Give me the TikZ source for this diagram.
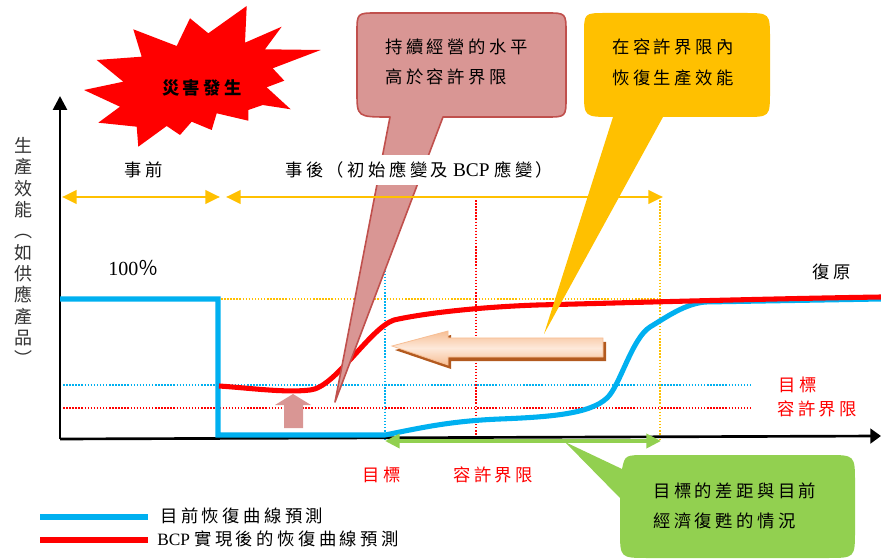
\documentclass[tikz,border=0pt]{standalone}
\usepackage{fontspec}
\setmainfont{Liberation Serif}
\newfontfamily\cjk[LetterSpace=20]{Noto Sans CJK TC}
\newfontfamily\cjkv{Noto Sans CJK TC}
\usetikzlibrary{arrows.meta}
\definecolor{cblue}{HTML}{00B0F0}
\definecolor{cred}{HTML}{FF0000}
\definecolor{cyellow}{HTML}{FFC000}
\definecolor{cpink}{HTML}{D99694}
\definecolor{cpinkedge}{HTML}{C0504D}
\definecolor{cgreen}{HTML}{92D050}
\definecolor{cpeach}{HTML}{F7BE94}
\definecolor{cpeachlight}{HTML}{FDE9DA}
\definecolor{cbrown}{HTML}{B35A1F}
\begin{document}
\begin{tikzpicture}[x=0.75pt,y=-0.75pt,
  lbl/.style={inner sep=0pt, anchor=west, font=\cjk\fontsize{13}{15}\selectfont},
  redlbl/.style={lbl, text=cred},
  dotline/.style={line width=1.1pt, dash pattern=on 1.1pt off 1.2pt},
  curve/.style={line width=3.8pt, line join=miter},
  axisline/.style={line width=2pt, black},
  yarrow/.style={draw=cyellow, line width=2.2pt, {Triangle[length=11pt,width=10pt]}-{Triangle[length=11pt,width=10pt]}},
  garrow/.style={draw=cgreen, line width=3.6pt, {Triangle[length=11pt,width=10.5pt]}-{Triangle[length=11pt,width=10.5pt]}},
]
\useasboundingbox (0,0) rectangle (881,559);

% named coordinates
\coordinate (O) at (60,439);
\coordinate (Ytop) at (60,96);
\coordinate (Xend) at (881,436);

% dotted guide lines
\draw[dotline, cblue] (60,385) -- (753,385);
\draw[dotline, cred] (60,408) -- (753,408);
\draw[dotline, cyellow] (218,299) -- (660,299);
\draw[dotline, cblue] (385,197) -- (385,440);
\draw[dotline, cred] (476,197) -- (476,440);
\draw[dotline, cyellow] (660,197) -- (660,440);

% axes
\draw[axisline, -{Triangle[length=10.5pt,width=10.5pt]}] (O) -- (Ytop);
\draw[axisline, -{Triangle[length=8pt,width=11pt]}] (O) -- (Xend);

% curves
\draw[curve, cblue] (60,299) -- (218,299) -- (218,435) -- (385,435)
  .. controls (420,428) and (450,421) .. (500,419)
  .. controls (550,417) and (590,414) .. (607,398)
  .. controls (620,386) and (632,338) .. (650,327)
  .. controls (668,316) and (685,304) .. (705,302)
  -- (881,299);
\draw[curve, cred] (219,386)
  .. controls (250,388) and (285,393) .. (310,390)
  .. controls (335,388) and (370,328) .. (394,320)
  .. controls (425,313) and (480,307) .. (537,305)
  .. controls (600,303.5) and (750,299) .. (881,297);

% green double arrow
\coordinate (G1) at (385,441);
\coordinate (G2) at (661,441);
\draw[garrow] (G1) -- (G2);

% pink up arrow
\fill[cpink] (293,394) -- (311,405) -- (303,405) -- (303,428) -- (284,428) -- (284,405) -- (275,405) -- cycle;

% peach left arrow with shadow
\fill[cbrown] ([shift={(3,4)}]392,346) -- ([shift={(3,4)}]448,331) -- ([shift={(3,4)}]448,338) -- ([shift={(3,4)}]603,338) -- ([shift={(3,4)}]603,357) -- ([shift={(3,4)}]448,357) -- ([shift={(3,4)}]448,365) -- cycle;
\path[top color=cpeach, bottom color=cpeach, middle color=cpeachlight, draw=cpeach, line width=0.6pt]
  (392,346) -- (448,331) -- (448,338) -- (603,338) -- (603,357) -- (448,357) -- (448,365) -- cycle;

% pink callout
\draw[fill=cpink, draw=cpinkedge, line width=1.2pt, line join=round]
  (335,402) -- (443,117) -- (546,117) .. controls (566,117) .. (566,97) -- (566,33) .. controls (566,13) .. (546,13)
  -- (377,13) .. controls (357,13) .. (357,33) -- (357,92) .. controls (357,117) .. (390,117) -- cycle;
\node[lbl] (pk1) at (385,47) {持續經營的水平};
\node[lbl] (pk2) at (385,77) {高於容許界限};

% yellow callout
\fill[cyellow]
  (544,334) -- (663,117) -- (744,117) .. controls (770,117) .. (770,91) -- (770,39) .. controls (770,13) .. (744,13)
  -- (606,13) .. controls (584,13) .. (584,35) -- (584,92) .. controls (584,117) .. (613,117) -- cycle;
\node[lbl] (yl1) at (612,47) {在容許界限內};
\node[lbl] (yl2) at (612,78) {恢復生產效能};

% green callout
\fill[cgreen]
  (565,442) -- (622,469) .. controls (625,455) .. (648,455) -- (827,455) .. controls (855,455) .. (855,483)
  -- (855,530) .. controls (855,558) .. (827,558) -- (648,558) .. controls (620,558) .. (620,530) -- (620,498) -- cycle;
\node[lbl] (gl1) at (653,491) {目標的差距與目前};
\node[lbl] (gl2) at (653,521) {經濟復甦的情況};

% labels
\node[lbl] (pre) at (124,170) {事前};
\node[lbl, fill=white, inner xsep=3pt, inner ysep=5pt] (post) at (281,170) {事後（初始應變及{\rmfamily\fontsize{14.5}{15}\selectfont\ BCP\ }應變）};
\node[inner sep=0pt, anchor=west] (hundred) at (108,268) {\fontsize{15}{16}\selectfont 100{\cjkv ％}};
\node[lbl] (recov) at (812,272) {復原};
\node[redlbl] (tR1) at (778,385) {目標};
\node[redlbl] (tR2) at (777,409) {容許界限};
\node[redlbl] (tB1) at (362,475) {目標};
\node[redlbl] (tB2) at (453,475) {容許界限};

% yellow double arrows
\coordinate (A1) at (62,197);
\coordinate (A2) at (220,197);
\coordinate (A3) at (226,197);
\coordinate (A4) at (663,197);
\draw[yarrow] (A1) -- (A2);
\draw[yarrow] (A3) -- (A4);

% y-axis label
\node[inner sep=0pt, anchor=north, align=center, font=\cjkv\fontsize{13.5}{16}\selectfont, text=black!80] (ylab) at (23,137)
  {生\\產\\效\\能\\︵\\如\\供\\應\\產\\品\\︶};

% starburst
\fill[cred] (246.7,6) -- (245,42.7) -- (281.7,26.7) -- (265,49.3) -- (320.7,50) -- (272.7,68.3) -- (284.3,80.7)
  -- (266.7,87.3) -- (290.7,109.3) -- (262.7,105) -- (248.3,110) -- (248.3,120.7) -- (216.7,113.3) -- (211.7,130)
  -- (191.7,121.7) -- (180,135) -- (166.7,126) -- (138.3,146.7) -- (136.7,126.7) -- (98.3,122.7) -- (120,106.7)
  -- (84,90) -- (123.3,81.7) -- (96.7,60) -- (141.7,56.7) -- (133.3,29.3) -- (176.7,46) -- (190,18.3) -- (208.3,33.3) -- cycle;
\node[inner sep=0pt, font=\cjk\bfseries\fontsize{13}{15}\selectfont] (burst) at (202,88) {災害發生};

% legend
\coordinate (L1a) at (40,517);
\coordinate (L1b) at (148,517);
\coordinate (L2a) at (40,540);
\coordinate (L2b) at (148,540);
\draw[curve, cblue] (L1a) -- (L1b);
\draw[curve, cred] (L2a) -- (L2b);
\node[lbl] (leg1) at (160,516) {目前恢復曲線預測};
\node[lbl] (leg2) at (157,539) {{\rmfamily BCP }實現後的恢復曲線預測};
\end{tikzpicture}
\end{document}
